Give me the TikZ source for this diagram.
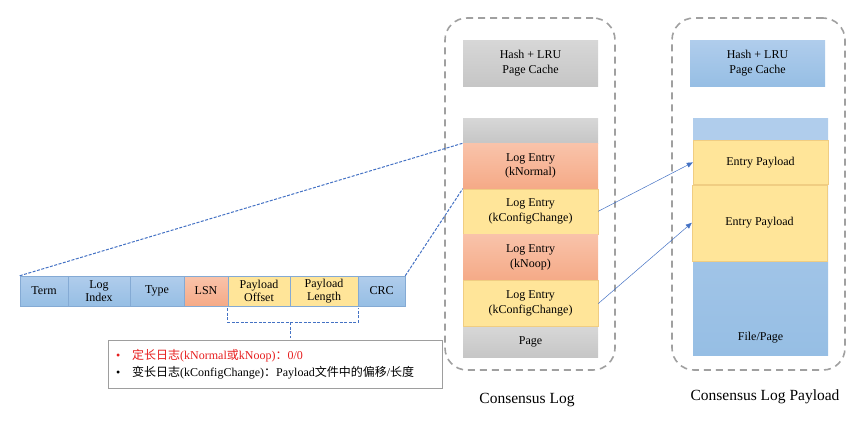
\documentclass[tikz,border=0pt]{standalone}
\usepackage{fontspec}
\setmainfont{Liberation Serif}
\newfontfamily\cjk{Noto Sans CJK SC}
\usetikzlibrary{arrows.meta, positioning, calc}
\definecolor{cblue}{RGB}{150, 190, 228}
\definecolor{cbluetop}{RGB}{176, 205, 236}
\definecolor{cblueedge}{RGB}{132, 170, 212}
\definecolor{corange}{RGB}{245, 170, 135}
\definecolor{corangetop}{RGB}{249, 195, 170}
\definecolor{cyellow}{RGB}{255, 229, 153}
\definecolor{cyellowedge}{RGB}{240, 205, 130}
\definecolor{cgray}{RGB}{198, 198, 198}
\definecolor{cgraytop}{RGB}{215, 215, 215}
\definecolor{cdash}{RGB}{160, 160, 160}
\definecolor{clink}{RGB}{68, 114, 196}
\definecolor{cred}{RGB}{230, 30, 30}
\tikzset{
  cell/.style={minimum width=135pt, inner sep=0pt, align=center,
               font=\fontsize{12}{14.5}\selectfont},
  field/.style={draw=cblueedge, line width=0.5pt, minimum height=30pt, inner sep=0pt,
                align=center, font=\fontsize{12}{13.5}\selectfont},
  bluefill/.style={top color=cbluetop, bottom color=cblue},
  orangefill/.style={top color=corangetop, bottom color=corange},
  grayfill/.style={top color=cgraytop, bottom color=cgray},
  yellowfill/.style={fill=cyellow, draw=cyellowedge, line width=0.4pt},
  grp/.style={draw=cdash, line width=1.6pt, dash pattern=on 7pt off 5pt,
              rounded corners=22pt, inner sep=0pt},
  link/.style={draw=clink, line width=1pt, dash pattern=on 3pt off 1.5pt},
  arr/.style={-{Triangle[length=6pt, width=5pt]}, draw=clink, line width=0.5pt},
  lab/.style={font=\fontsize{15.5}{17}\selectfont},
  legend/.style={draw=cgray!80!black, line width=0.5pt, minimum width=334pt,
                 minimum height=48pt, text width=318pt, align=left,
                 font=\fontsize{12}{17}\selectfont},
}

\begin{document}
\begin{tikzpicture}[x=1pt, y=1pt]
\useasboundingbox (0,0) rectangle (866,-429);

% ---------- log entry fields ----------
\node[field, bluefill, minimum width=48pt] (term) at (44,-291) {Term};
\node[field, bluefill, minimum width=62pt, right=-0.5pt of term] (logidx) {Log\\Index};
\node[field, bluefill, minimum width=54pt, right=-0.5pt of logidx] (type) {Type};
\node[field, orangefill, minimum width=44pt, right=-0.5pt of type] (lsn) {LSN};
\node[field, fill=cyellow, minimum width=62pt, right=-0.5pt of lsn] (offset) {Payload\\Offset};
\node[field, fill=cyellow, minimum width=68pt, right=-0.5pt of offset] (length) {Payload\\Length};
\node[field, bluefill, minimum width=47pt, right=-0.5pt of length] (crc) {CRC};

% ---------- note ----------
\node[legend] (note) at (275,-364)
  {\textcolor{cred}{\textbullet\quad{\cjk 定长日志}(kNormal{\cjk 或}kNoop){\cjk ：}0/0}\\
   \textbullet\quad{\cjk 变长日志}(kConfigChange){\cjk ：}Payload{\cjk 文件中的偏移}/{\cjk 长度}};

% ---------- consensus log ----------
\node[grp, minimum width=170pt, minimum height=352pt] (logbox) at (530,-194) {};
\node[cell, grayfill, minimum height=46pt] (logcache) at (530.5,-63) {Hash + LRU\\Page Cache};
\node[cell, grayfill, minimum height=25pt] (logtop) at (530.5,-130.5) {};
\node[cell, orangefill, minimum height=45pt, below=0pt of logtop] (normal) {Log Entry\\(kNormal)};
\node[cell, yellowfill, minimum height=45pt, below=0pt of normal] (cfga) {Log Entry\\(kConfigChange)};
\node[cell, orangefill, minimum height=46pt, below=0pt of cfga] (noop) {Log Entry\\(kNoop)};
\node[cell, yellowfill, minimum height=46pt, below=0pt of noop] (cfgb) {Log Entry\\(kConfigChange)};
\node[cell, grayfill, minimum height=30pt, below=0pt of cfgb] (logpage) {Page};
\node[lab] (logname) at (527,-400) {Consensus Log};

% ---------- consensus log payload ----------
\node[grp, minimum width=173pt, minimum height=352pt] (paybox) at (758.5,-194) {};
\node[cell, bluefill, minimum height=46pt] (paycache) at (757.5,-63) {Hash + LRU\\Page Cache};
\node[cell, bluefill, minimum height=237pt] (file) at (760.5,-236.5) {};
\node[cell, fill=cbluetop, minimum height=22pt] (payband) at (760.5,-129) {};
\node[cell, yellowfill, minimum height=44pt, below=0pt of payband] (paya) {Entry Payload};
\node[cell, yellowfill, minimum height=76pt, below=0pt of paya, xshift=-1pt] (payb) {Entry Payload};
\node[cell, minimum height=20pt] (filename) at (760.5,-338) {File/Page};
\node[lab] (payname) at (765,-397) {Consensus Log Payload};

% ---------- connectors ----------
\draw[link] (term.north west) -- (normal.north west);
\draw[link] (crc.north east) -- (normal.south west);
\draw[link] ([yshift=-2pt]offset.south west) -- ++(0,-14) coordinate (bl)
  -| ([yshift=-2pt]length.south east);
\draw[link] (bl -| offset.south east) -- ++(0,-16);

\draw[arr] (cfga.east) -- (paya.west);
\draw[arr] (cfgb.east) -- (payb.west);

\end{tikzpicture}
\end{document}
